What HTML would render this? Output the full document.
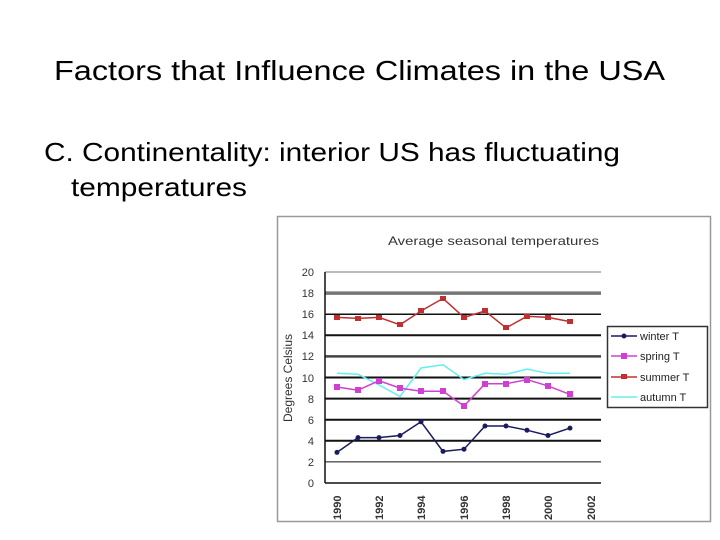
<!DOCTYPE html>
<html><head><style>html,body{margin:0;padding:0;background:#fff;}svg{display:block}</style></head>
<body>
<svg width="720" height="540" xmlns="http://www.w3.org/2000/svg" font-family="Liberation Sans, sans-serif">
<text x="54" y="80" font-size="28" textLength="611" lengthAdjust="spacingAndGlyphs">Factors that Influence Climates in the USA</text>
<text x="44" y="161" font-size="26" textLength="576" lengthAdjust="spacingAndGlyphs">C.  Continentality: interior US has fluctuating</text>
<text x="71" y="196" font-size="26" textLength="176" lengthAdjust="spacingAndGlyphs">temperatures</text>
<rect x="277.5" y="216.5" width="433" height="305" fill="#fff" stroke="#999" stroke-width="1.5"/>
<text x="388" y="245" font-size="12" fill="#333" textLength="211" lengthAdjust="spacingAndGlyphs">Average seasonal temperatures</text>
<g stroke="#111" stroke-width="1.5">
<line x1="325" y1="461.9" x2="601" y2="461.9" stroke-width="1"/>
<line x1="325" y1="440.8" x2="601" y2="440.8" stroke-width="2"/>
<line x1="325" y1="419.7" x2="601" y2="419.7" stroke-width="2"/>
<line x1="325" y1="398.6" x2="601" y2="398.6" stroke-width="2"/>
<line x1="325" y1="377.5" x2="601" y2="377.5" stroke-width="2"/>
<line x1="325" y1="356.4" x2="601" y2="356.4" stroke="#444" stroke-width="2.5"/>
<line x1="325" y1="335.3" x2="601" y2="335.3" stroke-width="2"/>
<line x1="325" y1="314.2" x2="601" y2="314.2" stroke-width="1.5"/>
<line x1="325" y1="293.1" x2="601" y2="293.1" stroke="#777" stroke-width="3.5"/>
<line x1="325" y1="272" x2="601" y2="272" stroke="#bbb" stroke-width="2"/>
<line x1="325" y1="483" x2="601" y2="483" stroke-width="1.5"/>
<line x1="325" y1="272" x2="325" y2="483" stroke-width="1.5"/>
</g>
<g font-size="11" fill="#333" text-anchor="end">
<text x="314" y="487">0</text><text x="314" y="466">2</text><text x="314" y="445">4</text><text x="314" y="424">6</text><text x="314" y="403">8</text><text x="314" y="382">10</text><text x="314" y="360">12</text><text x="314" y="339">14</text><text x="314" y="318">16</text><text x="314" y="297">18</text><text x="314" y="276">20</text>
</g>
<text transform="translate(292,378) rotate(-90)" font-size="12" fill="#333" text-anchor="middle">Degrees Celsius</text>
<g font-size="11" fill="#333" font-weight="bold">
<text transform="translate(341,520) rotate(-90)">1990</text>
<text transform="translate(383,520) rotate(-90)">1992</text>
<text transform="translate(425,520) rotate(-90)">1994</text>
<text transform="translate(468,520) rotate(-90)">1996</text>
<text transform="translate(510,520) rotate(-90)">1998</text>
<text transform="translate(552,520) rotate(-90)">2000</text>
<text transform="translate(595,520) rotate(-90)">2002</text>
</g>
<polyline fill="none" stroke="#6ee" stroke-width="1.5" points="337,373.3 358,374.3 379,384.9 400,396.5 421,368 443,364.8 464,379.6 485,373.3 506,374.3 527,369.1 548,373.3 570,373.3"/>
<polyline fill="none" stroke="#d040d0" stroke-width="1.5" points="337,387 358,390.2 379,380.7 400,388.1 421,391.2 443,391.2 464,406 485,383.8 506,383.8 527,379.6 548,385.9 570,394.4"/>
<g fill="#d040d0"><rect x="334" y="384" width="6" height="6"/><rect x="355" y="387" width="6" height="6"/><rect x="376" y="378" width="6" height="6"/><rect x="397" y="385" width="6" height="6"/><rect x="418" y="388" width="6" height="6"/><rect x="440" y="388" width="6" height="6"/><rect x="461" y="403" width="6" height="6"/><rect x="482" y="381" width="6" height="6"/><rect x="503" y="381" width="6" height="6"/><rect x="524" y="377" width="6" height="6"/><rect x="545" y="383" width="6" height="6"/><rect x="567" y="391" width="6" height="6"/></g>
<polyline fill="none" stroke="#c03030" stroke-width="1.5" points="337,317.4 358,318.4 379,317.4 400,324.8 421,311 443,298.4 464,317.4 485,311 506,327.9 527,316.3 548,317.4 570,321.6"/>
<g fill="#c03030"><rect x="334" y="315" width="6" height="5"/><rect x="355" y="316" width="6" height="5"/><rect x="376" y="315" width="6" height="5"/><rect x="397" y="322" width="6" height="5"/><rect x="418" y="308" width="6" height="5"/><rect x="440" y="296" width="6" height="5"/><rect x="461" y="315" width="6" height="5"/><rect x="482" y="308" width="6" height="5"/><rect x="503" y="325" width="6" height="5"/><rect x="524" y="314" width="6" height="5"/><rect x="545" y="315" width="6" height="5"/><rect x="567" y="319" width="6" height="5"/></g>
<polyline fill="none" stroke="#1a1a60" stroke-width="1.5" points="337,452.4 358,437.6 379,437.6 400,435.5 421,421.8 443,451.4 464,449.2 485,426 506,426 527,430.2 548,435.5 570,428.1"/>
<g fill="#1a1a60"><circle cx="337" cy="452.4" r="2.5"/><circle cx="358" cy="437.6" r="2.5"/><circle cx="379" cy="437.6" r="2.5"/><circle cx="400" cy="435.5" r="2.5"/><circle cx="421" cy="421.8" r="2.5"/><circle cx="443" cy="451.4" r="2.5"/><circle cx="464" cy="449.2" r="2.5"/><circle cx="485" cy="426" r="2.5"/><circle cx="506" cy="426" r="2.5"/><circle cx="527" cy="430.2" r="2.5"/><circle cx="548" cy="435.5" r="2.5"/><circle cx="570" cy="428.1" r="2.5"/></g>
<rect x="607.5" y="326.5" width="100" height="81" fill="#fff" stroke="#333" stroke-width="1.5"/>
<g font-size="11" fill="#222">
<line x1="611" y1="336" x2="637" y2="336" stroke="#1a1a60" stroke-width="1.5"/><circle cx="624" cy="336" r="2.5" fill="#1a1a60"/><text x="640" y="340">winter T</text>
<line x1="611" y1="356" x2="637" y2="356" stroke="#d040d0" stroke-width="1.5"/><rect x="621" y="353" width="6" height="6" fill="#d040d0"/><text x="640" y="360">spring T</text>
<line x1="611" y1="377" x2="637" y2="377" stroke="#c03030" stroke-width="1.5"/><rect x="621" y="374" width="6" height="5" fill="#c03030"/><text x="640" y="381">summer T</text>
<line x1="611" y1="397" x2="637" y2="397" stroke="#6ee" stroke-width="1.5"/><text x="640" y="401">autumn T</text>
</g>
</svg>
</body></html>
